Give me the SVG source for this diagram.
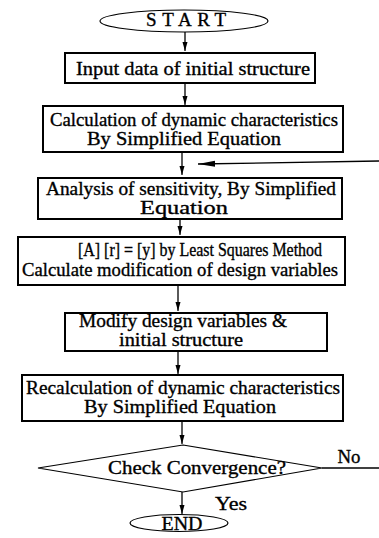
<svg xmlns="http://www.w3.org/2000/svg" width="379" height="538" viewBox="0 0 379 538">
<defs>
<marker id="ah" markerWidth="8" markerHeight="10" refX="9" refY="3" orient="auto" markerUnits="userSpaceOnUse"><path d="M0,0.5 L9,3 L0,5.5 Z" fill="#000"/></marker>
<marker id="ahl" markerWidth="18" markerHeight="8" refX="17" refY="4" orient="auto" markerUnits="userSpaceOnUse"><path d="M0,1 L17,4 L0,7 Z" fill="#000"/></marker>
<style>
.box{fill:#fff;stroke:#000;stroke-width:2}
.term{fill:#fff;stroke:#000;stroke-width:1.2}
.t{font-family:"Liberation Serif","DejaVu Serif",serif;font-size:19px;fill:#000;stroke:#000;stroke-width:0.35;text-anchor:middle}
.c{stroke:#000;stroke-width:1.3;fill:none}
</style>
</defs>
<rect width="379" height="538" fill="#fff"/>
<g id="connectors">
<line class="c" x1="185" y1="32" x2="185" y2="51" marker-end="url(#ah)"/>
<line class="c" x1="185" y1="83" x2="185" y2="105" marker-end="url(#ah)"/>
<line class="c" x1="182" y1="152" x2="182" y2="175" marker-end="url(#ah)"/>
<line class="c" x1="379" y1="161" x2="198" y2="164" marker-end="url(#ahl)"/>
<line class="c" x1="180" y1="219" x2="180" y2="235" marker-end="url(#ah)"/>
<line class="c" x1="178" y1="285" x2="178" y2="311" marker-end="url(#ah)"/>
<line class="c" x1="178" y1="351" x2="178" y2="374" marker-end="url(#ah)"/>
<line class="c" x1="182" y1="421" x2="182" y2="444" marker-end="url(#ah)"/>
<line class="c" x1="182" y1="492" x2="182" y2="514" marker-end="url(#ah)"/>
<line class="c" x1="322" y1="468" x2="379" y2="468"/>
<text class="t" x="349" y="463" textLength="23" lengthAdjust="spacingAndGlyphs">No</text>
<text class="t" x="231" y="510" textLength="32" lengthAdjust="spacingAndGlyphs">Yes</text>
</g>
<g id="start"><ellipse class="term" cx="184" cy="21" rx="84" ry="11"/><text class="t" x="186" y="26" font-size="16" textLength="80" lengthAdjust="spacing">START</text></g>
<g id="input"><rect class="box" x="65" y="53" width="250" height="30"/><text class="t" x="193" y="75" textLength="234" lengthAdjust="spacingAndGlyphs">Input data of initial structure</text></g>
<g id="calc"><rect class="box" x="43" y="106" width="300" height="46"/><text class="t" x="194" y="126" textLength="288" lengthAdjust="spacingAndGlyphs">Calculation of dynamic characteristics</text><text class="t" x="184" y="145" textLength="194" lengthAdjust="spacingAndGlyphs">By Simplified Equation</text></g>
<g id="sens"><rect class="box" x="38" y="178" width="304" height="41"/><text class="t" x="191" y="195" textLength="290" lengthAdjust="spacingAndGlyphs">Analysis of sensitivity, By Simplified</text><text class="t" x="184" y="214" textLength="88" lengthAdjust="spacingAndGlyphs">Equation</text></g>
<g id="lsm"><rect class="box" x="18" y="237" width="327" height="48"/><text class="t" x="200" y="256" textLength="244" lengthAdjust="spacingAndGlyphs">[A] [r] = [y] by Least Squares Method</text><text class="t" x="180" y="276" textLength="316" lengthAdjust="spacingAndGlyphs">Calculate modification of design variables</text></g>
<g id="modify"><rect class="box" x="65" y="313" width="262" height="38"/><text class="t" x="183" y="327" textLength="208" lengthAdjust="spacingAndGlyphs">Modify design variables &amp;</text><text class="t" x="181" y="346" textLength="124" lengthAdjust="spacingAndGlyphs">initial structure</text></g>
<g id="recalc"><rect class="box" x="22" y="375" width="321" height="46"/><text class="t" x="183" y="394" textLength="314" lengthAdjust="spacingAndGlyphs">Recalculation of dynamic characteristics</text><text class="t" x="180" y="413" textLength="192" lengthAdjust="spacingAndGlyphs">By Simplified Equation</text></g>
<g id="check"><polygon class="term" points="183,445 322,468 183,492 38,468"/><text class="t" x="197" y="474" textLength="178" lengthAdjust="spacingAndGlyphs">Check Convergence?</text></g>
<g id="end"><ellipse class="term" cx="179" cy="523" rx="49" ry="8.5"/><text class="t" x="182" y="530" font-size="18" textLength="41" lengthAdjust="spacingAndGlyphs">END</text></g>
</svg>
